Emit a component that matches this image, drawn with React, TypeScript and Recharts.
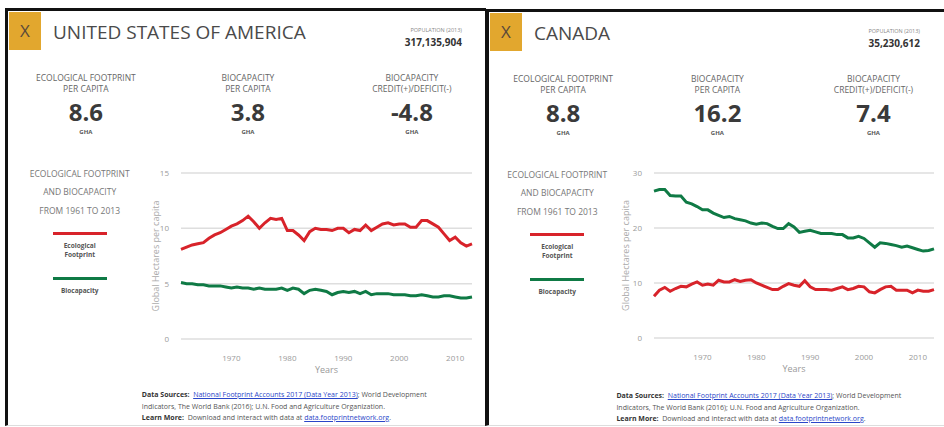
import { LineChart, Line, XAxis, YAxis, CartesianGrid } from 'recharts';

const years = [
  1961, 1962, 1963, 1964, 1965, 1966, 1967, 1968, 1969, 1970,
  1971, 1972, 1973, 1974, 1975, 1976, 1977, 1978, 1979, 1980,
  1981, 1982, 1983, 1984, 1985, 1986, 1987, 1988, 1989, 1990,
  1991, 1992, 1993, 1994, 1995, 1996, 1997, 1998, 1999, 2000,
  2001, 2002, 2003, 2004, 2005, 2006, 2007, 2008, 2009, 2010,
  2011, 2012, 2013,
];

const usaFootprint = [
  8.1, 8.3, 8.5, 8.6, 8.7, 9.1, 9.4, 9.6, 9.9, 10.2,
  10.4, 10.7, 11.1, 10.6, 10.0, 10.5, 10.9, 10.8, 10.9, 9.8,
  9.8, 9.4, 8.9, 9.7, 10.0, 9.9, 9.9, 9.8, 10.0, 10.0,
  9.6, 9.9, 9.8, 10.3, 9.8, 10.1, 10.4, 10.5, 10.3, 10.4,
  10.4, 10.1, 10.1, 10.7, 10.7, 10.4, 10.1, 9.5, 8.9, 9.2,
  8.7, 8.4, 8.6,
];

const usaBiocapacity = [
  5.1, 5.0, 5.0, 4.9, 4.9, 4.8, 4.8, 4.8, 4.7, 4.6,
  4.7, 4.6, 4.6, 4.5, 4.6, 4.5, 4.5, 4.5, 4.6, 4.4,
  4.6, 4.5, 4.1, 4.4, 4.5, 4.4, 4.3, 4.0, 4.2, 4.3,
  4.2, 4.3, 4.1, 4.3, 4.0, 4.1, 4.1, 4.1, 4.0, 4.0,
  4.0, 3.9, 3.9, 4.0, 3.9, 3.8, 3.8, 3.9, 3.9, 3.8,
  3.7, 3.7, 3.8,
];

const canFootprint = [
  7.6, 8.7, 9.2, 8.5, 9.0, 9.4, 9.3, 9.8, 10.2, 9.6,
  9.8, 9.6, 10.5, 10.2, 10.2, 10.6, 10.3, 10.5, 10.6, 10.0,
  9.6, 9.2, 8.8, 8.8, 9.4, 9.9, 9.6, 9.4, 10.4, 9.3,
  8.8, 8.8, 8.8, 8.7, 9.0, 9.3, 8.8, 9.0, 9.4, 9.3,
  8.4, 8.2, 8.8, 9.3, 9.4, 8.7, 8.7, 8.7, 8.2, 8.7,
  8.5, 8.5, 8.8,
];

const canBiocapacity = [
  26.7, 27.0, 27.0, 25.9, 25.8, 25.8, 24.7, 24.4, 23.9, 23.3,
  23.3, 22.7, 22.3, 21.9, 22.1, 21.7, 21.5, 21.3, 20.9, 20.7,
  20.9, 20.8, 20.3, 19.9, 19.9, 20.8, 20.2, 19.2, 19.4, 19.6,
  19.3, 19.0, 19.0, 19.0, 18.8, 18.8, 18.2, 18.2, 18.5, 18.1,
  17.3, 16.5, 17.3, 17.2, 17.0, 16.8, 16.5, 16.7, 16.4, 16.1,
  15.8, 15.9, 16.2,
];

const xTicks = [1970, 1980, 1990, 2000, 2010];
const usaYTicks = [0, 5, 10, 15];
const canYTicks = [0, 10, 20, 30];

const statLabels = [
  ['ECOLOGICAL FOOTPRINT', 'PER CAPITA'],
  ['BIOCAPACITY', 'PER CAPITA'],
  ['BIOCAPACITY', 'CREDIT(+)/DEFICIT(-)'],
];
const usaStats = ['8.6', '3.8', '-4.8'];
const canStats = ['8.8', '16.2', '7.4'];

const RED = '#d8232a';
const GREEN = '#0f7a45';
const FONT = '"Open Sans", "Noto Sans", sans-serif';

function buildData(fp: number[], bc: number[]) {
  return years.map((year, i) => ({ year, footprint: fp[i], biocapacity: bc[i] }));
}

interface ChartProps {
  data: { year: number; footprint: number; biocapacity: number }[];
  yTicks: number[];
  yMax: number;
  width: number;
  height: number;
  axisWidth: number;
}

function TrendChart({ data, yTicks, yMax, width, height, axisWidth }: ChartProps) {
  return (
    <LineChart width={width} height={height} data={data} margin={{ top: 13, right: 8, left: 0, bottom: 10 }}>
      <CartesianGrid vertical={false} stroke="#dedede" strokeWidth={1.5} />
      <XAxis
        dataKey="year"
        type="number"
        domain={[1961, 2013]}
        ticks={xTicks}
        interval={0}
        axisLine={false}
        tickLine={false}
        tickMargin={10}
        height={36}
        tick={{ fontSize: 8, fill: '#9a9a9a', fontFamily: FONT }}
        label={{ value: 'Years', position: 'insideBottom', offset: 2, fontSize: 9, fill: '#999', fontFamily: FONT }}
      />
      <YAxis
        type="number"
        domain={[0, yMax]}
        ticks={yTicks}
        interval={0}
        width={axisWidth}
        axisLine={false}
        tickLine={false}
        tickMargin={6}
        tick={{ fontSize: 8, fill: '#9a9a9a', fontFamily: FONT }}
        label={{
          value: 'Global Hectares per capita',
          angle: -90,
          position: 'insideLeft',
          offset: 6,
          style: { textAnchor: 'middle', fontSize: 9, fill: '#aaa', fontFamily: FONT },
        }}
      />
      <Line type="linear" dataKey="footprint" stroke={RED} strokeWidth={3} dot={false} isAnimationActive={false} />
      <Line type="linear" dataKey="biocapacity" stroke={GREEN} strokeWidth={3} dot={false} isAnimationActive={false} />
    </LineChart>
  );
}

interface PanelProps {
  left: number;
  top: number;
  width: number;
  height: number;
  borderLeft: number;
  name: string;
  population: string;
  stats: string[];
  chart: React.ReactNode;
  chartLeft: number;
  chartTop: number;
}

function Panel({ left, top, width, height, borderLeft, name, population, stats, chart, chartLeft, chartTop }: PanelProps) {
  const inner = width - borderLeft;
  const centers = [0.163, 0.502, 0.845].map((f) => f * inner);
  const legendX = 0.15 * inner;
  const line = (y: number, h: number): React.CSSProperties => ({ position: 'absolute', top: y - h / 2, lineHeight: `${h}px`, whiteSpace: 'nowrap' });
  const centered = (x: number, w: number): React.CSSProperties => ({ left: x - w / 2, width: w, textAlign: 'center' });
  const link = { color: '#2a46c8', textDecoration: 'underline' };

  return (
    <div
      style={{
        position: 'absolute',
        left,
        top,
        width,
        height,
        boxSizing: 'border-box',
        borderTop: '3px solid #111',
        borderLeft: `${borderLeft}px solid #111`,
        borderBottom: '1px solid #ddd',
        background: '#fff',
        fontFamily: FONT,
      }}
    >
      <div style={{ position: 'absolute', left: chartLeft, top: chartTop }}>{chart}</div>

      <div style={{ position: 'absolute', left: 1, top: 1, width: 32, height: 38, background: '#e2a72e', color: '#5a4a3a', fontSize: 17, lineHeight: '38px', textAlign: 'center' }}>
        X
      </div>
      <div style={{ ...line(21, 24), left: 45, fontSize: 19, color: '#4a4a4a' }}>{name}</div>
      <div style={{ ...line(19, 8), right: 24, fontSize: 5.5, color: '#888', textAlign: 'right' }}>POPULATION (2013)</div>
      <div style={{ ...line(31, 12), right: 24, fontSize: 10, fontWeight: 700, color: '#333', textAlign: 'right' }}>{population}</div>

      {statLabels.map((lbl, i) => (
        <div key={i}>
          <div style={{ ...line(66, 11), ...centered(centers[i], 140), fontSize: 8.5, color: '#666' }}>{lbl[0]}</div>
          <div style={{ ...line(77, 11), ...centered(centers[i], 140), fontSize: 8.5, color: '#666' }}>{lbl[1]}</div>
          <div style={{ ...line(101, 28), ...centered(centers[i], 140), fontSize: 24, fontWeight: 700, color: '#3a3a3a' }}>{stats[i]}</div>
          <div style={{ ...line(121, 8), ...centered(centers[i], 140), fontSize: 6, fontWeight: 700, color: '#555' }}>GHA</div>
        </div>
      ))}

      <div style={{ ...line(163, 12), ...centered(legendX, 140), fontSize: 8.5, color: '#777' }}>ECOLOGICAL FOOTPRINT</div>
      <div style={{ ...line(181, 12), ...centered(legendX, 140), fontSize: 8.5, color: '#777' }}>AND BIOCAPACITY</div>
      <div style={{ ...line(200, 12), ...centered(legendX, 140), fontSize: 8.5, color: '#777' }}>FROM 1961 TO 2013</div>
      <div style={{ position: 'absolute', left: legendX - 27, top: 221, width: 54, height: 3, background: RED }} />
      <div style={{ ...line(234, 9), ...centered(legendX, 80), fontSize: 6.5, fontWeight: 700, color: '#555' }}>Ecological</div>
      <div style={{ ...line(243, 9), ...centered(legendX, 80), fontSize: 6.5, fontWeight: 700, color: '#555' }}>Footprint</div>
      <div style={{ position: 'absolute', left: legendX - 27, top: 266, width: 54, height: 3, background: GREEN }} />
      <div style={{ ...line(279, 9), ...centered(legendX, 80), fontSize: 6.5, fontWeight: 700, color: '#555' }}>Biocapacity</div>

      <div style={{ position: 'absolute', left: 0.28 * inner, top: 378, fontSize: 7, lineHeight: '11.5px', color: '#555', whiteSpace: 'nowrap' }}>
        <div>
          <b style={{ color: '#333' }}>Data Sources:</b>&nbsp; <span style={link}>National Footprint Accounts 2017 (Data Year 2013)</span>; World Development
        </div>
        <div>Indicators, The World Bank (2016); U.N. Food and Agriculture Organization.</div>
        <div>
          <b style={{ color: '#333' }}>Learn More:</b>&nbsp; Download and interact with data at <span style={link}>data.footprintnetwork.org</span>.
        </div>
      </div>
    </div>
  );
}

export default function App() {
  const usaData = buildData(usaFootprint, usaBiocapacity);
  const canData = buildData(canFootprint, canBiocapacity);

  return (
    <div style={{ position: 'absolute', left: 0, top: 0, width: 944, height: 427, overflow: 'hidden', background: '#fff' }}>
      <Panel
        left={5}
        top={8}
        width={481}
        height={418}
        borderLeft={3}
        name="UNITED STATES OF AMERICA"
        population="317,135,904"
        stats={usaStats}
        chartLeft={142}
        chartTop={149}
        chart={<TrendChart data={usaData} yTicks={usaYTicks} yMax={15} width={330} height={225} axisWidth={31} />}
      />
      <Panel
        left={485}
        top={9}
        width={459}
        height={417}
        borderLeft={4}
        name="CANADA"
        population="35,230,612"
        stats={canStats}
        chartLeft={131}
        chartTop={148}
        chart={<TrendChart data={canData} yTicks={canYTicks} yMax={30} width={322} height={224} axisWidth={34} />}
      />
    </div>
  );
}
